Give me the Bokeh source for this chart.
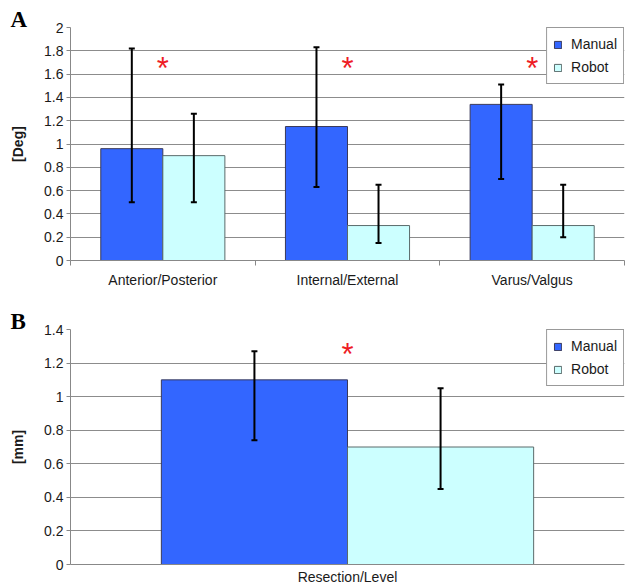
from bokeh.plotting import figure
from bokeh.models import (ColumnDataSource, Whisker, Legend, LegendItem, FixedTicker,
                          Range1d, TeeHead)
from bokeh.layouts import column
from bokeh.embed import file_html
from bokeh.resources import INLINE
from bokeh.core.properties import value

# ---------------- data ----------------
categories_a = ["Anterior/Posterior", "Internal/External", "Varus/Valgus"]
manual_a = [0.96, 1.15, 1.34]
manual_a_lo = [0.50, 0.63, 0.70]
manual_a_hi = [1.82, 1.83, 1.51]
robot_a = [0.90, 0.30, 0.30]
robot_a_lo = [0.50, 0.15, 0.20]
robot_a_hi = [1.26, 0.65, 0.65]
star_a = [1.67, 1.67, 1.67]
yticks_a = [0, 0.2, 0.4, 0.6, 0.8, 1, 1.2, 1.4, 1.6, 1.8, 2]
ytick_labels_a = ["0", "0.2", "0.4", "0.6", "0.8", "1", "1.2", "1.4", "1.6", "1.8", "2"]

categories_b = ["Resection/Level"]
manual_b = [1.10]
manual_b_lo = [0.74]
manual_b_hi = [1.27]
robot_b = [0.70]
robot_b_lo = [0.45]
robot_b_hi = [1.05]
star_b = [1.27]
yticks_b = [0, 0.2, 0.4, 0.6, 0.8, 1, 1.2, 1.4]
ytick_labels_b = ["0", "0.2", "0.4", "0.6", "0.8", "1", "1.2", "1.4"]

series_names = ["Manual", "Robot"]
# ---------------- style ----------------
FONT = "Liberation Sans"
MANUAL_COLOR = "#3366ff"
ROBOT_COLOR = "#ccffff"
GRID_COLOR = "#8c8c8c"
BAR_W = 0.336


def make_panel(cats, man, man_lo, man_hi, rob, rob_lo, rob_hi, stars, yticks, ylabels,
               ylabel, letter, width, height, bl, br, bt, bb, letter_x, cat_ticks,
               x_standoff, y_label_standoff):
    n = len(cats)
    p = figure(width=width, height=height, output_backend="svg", toolbar_location=None,
               x_range=Range1d(0, n), y_range=Range1d(yticks[0], yticks[-1]),
               min_border_left=bl, min_border_right=br, min_border_top=bt,
               min_border_bottom=bb)
    p.outline_line_color = None
    p.background_fill_color = "white"
    p.border_fill_color = "white"

    # panel letter as title
    p.title.text = letter
    p.title.align = "left"
    p.title.offset = -(bl - letter_x)
    p.title.text_font = "Liberation Serif"
    p.title.text_font_style = "bold"
    p.title.text_font_size = "23px"
    p.title.text_color = "black"
    p.title.standoff = -8

    centers = [i + 0.5 for i in range(n)]
    src_m = ColumnDataSource(dict(x=[c - BAR_W / 2 for c in centers], top=man,
                                  lo=man_lo, hi=man_hi))
    src_r = ColumnDataSource(dict(x=[c + BAR_W / 2 for c in centers], top=rob,
                                  lo=rob_lo, hi=rob_hi))
    rm = p.vbar(x="x", top="top", bottom=0, width=BAR_W, source=src_m,
                fill_color=MANUAL_COLOR, line_color="#3a3a5a", line_width=1)
    rr = p.vbar(x="x", top="top", bottom=0, width=BAR_W, source=src_r,
                fill_color=ROBOT_COLOR, line_color="#5a6a6a", line_width=1)

    for s in (src_m, src_r):
        w = Whisker(source=s, base="x", upper="hi", lower="lo", line_color="black",
                    line_width=2, level="annotation",
                    upper_head=TeeHead(size=6, line_color="black", line_width=2),
                    lower_head=TeeHead(size=6, line_color="black", line_width=2))
        p.add_layout(w)

    src_s = ColumnDataSource(dict(x=centers, y=stars, t=["*"] * n))
    p.text(x="x", y="y", text="t", source=src_s, text_color="#ee1c25",
           text_font=value(FONT), text_font_size="31px", text_align="center",
           text_baseline="middle", y_offset=3)

    # axes
    p.xaxis.ticker = FixedTicker(ticks=centers,
                                 minor_ticks=list(range(n + 1)) if cat_ticks else [])
    p.xaxis.major_label_overrides = {c: lab for c, lab in zip(centers, cats)}
    p.xaxis.major_tick_line_color = None
    p.xaxis.major_tick_out = 0
    p.xaxis.major_tick_in = 0
    p.xaxis.minor_tick_out = 5 if cat_ticks else 0
    p.xaxis.minor_tick_in = 0
    p.xaxis.minor_tick_line_color = "#888888"
    p.xaxis.axis_line_color = "#888888"
    p.xaxis.major_label_text_font = FONT
    p.xaxis.major_label_text_font_size = "14px"
    p.xaxis.major_label_text_color = "#1a1a1a"
    p.xaxis.major_label_standoff = x_standoff

    p.yaxis.ticker = FixedTicker(ticks=yticks)
    p.yaxis.major_label_overrides = {t: lab for t, lab in zip(yticks, ylabels)}
    p.yaxis.major_tick_out = 4
    p.yaxis.major_tick_in = 0
    p.yaxis.major_tick_line_color = "#888888"
    p.yaxis.minor_tick_line_color = None
    p.yaxis.axis_line_color = "#888888"
    p.yaxis.major_label_text_font = FONT
    p.yaxis.major_label_text_font_size = "14px"
    p.yaxis.major_label_text_color = "#1a1a1a"
    p.yaxis.major_label_standoff = 3
    p.yaxis.axis_label = ylabel
    p.yaxis.axis_label_text_font = FONT
    p.yaxis.axis_label_text_font_style = "bold"
    p.yaxis.axis_label_text_font_size = "14px"
    p.yaxis.axis_label_text_color = "#1a1a1a"
    p.yaxis.axis_label_standoff = y_label_standoff

    p.xgrid.grid_line_color = None
    p.ygrid.ticker = FixedTicker(ticks=yticks)
    p.ygrid.grid_line_color = GRID_COLOR
    p.ygrid.grid_line_width = 1

    legend = Legend(items=[LegendItem(label=series_names[0], renderers=[rm]),
                           LegendItem(label=series_names[1], renderers=[rr])],
                    location="top_right", margin=0, padding=6, spacing=3,
                    glyph_width=9, glyph_height=9, label_standoff=9, label_height=20,
                    label_text_font=FONT, label_text_font_size="14px",
                    label_text_color="#1a1a1a",
                    border_line_color="#333333", border_line_width=1.5,
                    background_fill_color="white", background_fill_alpha=1)
    p.add_layout(legend)
    return p


pa = make_panel(categories_a, manual_a, manual_a_lo, manual_a_hi, robot_a, robot_a_lo,
                robot_a_hi, star_a, yticks_a, ytick_labels_a, "[Deg]", "A",
                625, 292, 68, 1, 27, 32, 8, True, 6, 15)
pb = make_panel(categories_b, manual_b, manual_b_lo, manual_b_hi, robot_b, robot_b_lo,
                robot_b_hi, star_b, yticks_b, ytick_labels_b, "[mm]", "B",
                625, 296, 70, 0, 37, 24, 10, False, 4, 15)

layout = column(pa, pb, spacing=0)
open("out.html", "w").write(file_html(layout, INLINE))
